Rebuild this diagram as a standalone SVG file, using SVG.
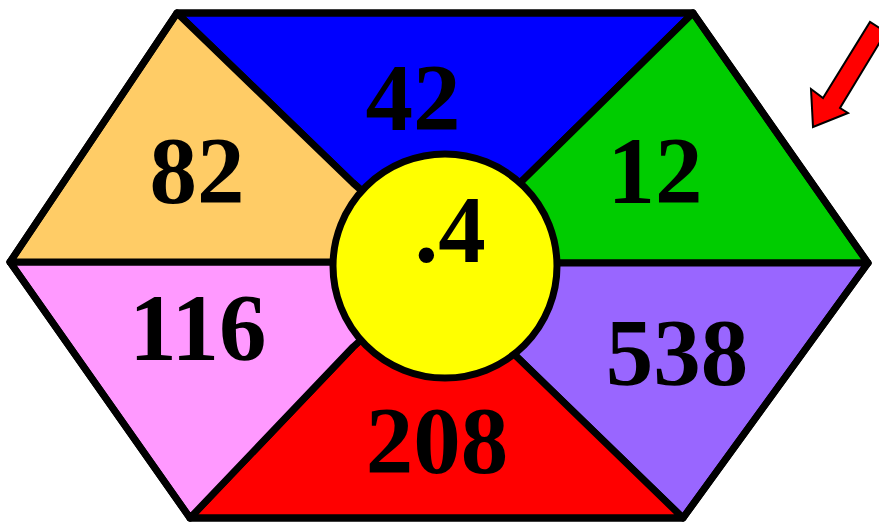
<svg xmlns="http://www.w3.org/2000/svg" width="879" height="524" viewBox="0 0 879 524">
<style>
.seg{stroke:#000;stroke-width:7;stroke-linejoin:round}
.num{font-family:"Liberation Serif","Times New Roman",serif;font-weight:bold;font-size:95px;fill:#000;text-anchor:middle}
</style>
<rect width="879" height="524" fill="#fff"/>
<g id="seg-top"><polygon class="seg" fill="#0000FF" points="177,13 693,13 523,180 445,264 353,183"/><text class="num" x="413" y="130">42</text></g>
<g id="seg-topright"><polygon class="seg" fill="#00CC00" points="693,13 868,263 557,263 445,264 523,180"/><text class="num" x="655" y="203">12</text></g>
<g id="seg-bottomright"><polygon class="seg" fill="#9966FF" points="868,263 683,518 517,357 445,264 557,263"/><text class="num" x="677" y="385">538</text></g>
<g id="seg-bottom"><polygon class="seg" fill="#FF0000" points="683,518 190,518 353,347 445,264 517,357"/><text class="num" x="437" y="473">208</text></g>
<g id="seg-bottomleft"><polygon class="seg" fill="#FF99FF" points="190,518 10,262 333,262 445,264 353,347"/><text class="num" x="198" y="360">116</text></g>
<g id="seg-topleft"><polygon class="seg" fill="#FFCC66" points="10,262 177,13 353,183 445,264 333,262"/><text class="num" x="197" y="203">82</text></g>
<g id="outline"><polygon fill="none" stroke="#000" stroke-width="7" stroke-linejoin="round" points="177,13 693,13 868,263 683,518 190,518 10,262"/></g>
<g id="center"><circle cx="445" cy="266" r="112" fill="#FFFF00" stroke="#000" stroke-width="7"/><text class="num" x="450" y="262">.4</text></g>
<g id="arrow"><polygon fill="#FF0000" stroke="#000" stroke-width="2" stroke-linejoin="miter" points="813,127 811,89 823,98 870,22 886,32 840,108 848,113"/></g>
</svg>
